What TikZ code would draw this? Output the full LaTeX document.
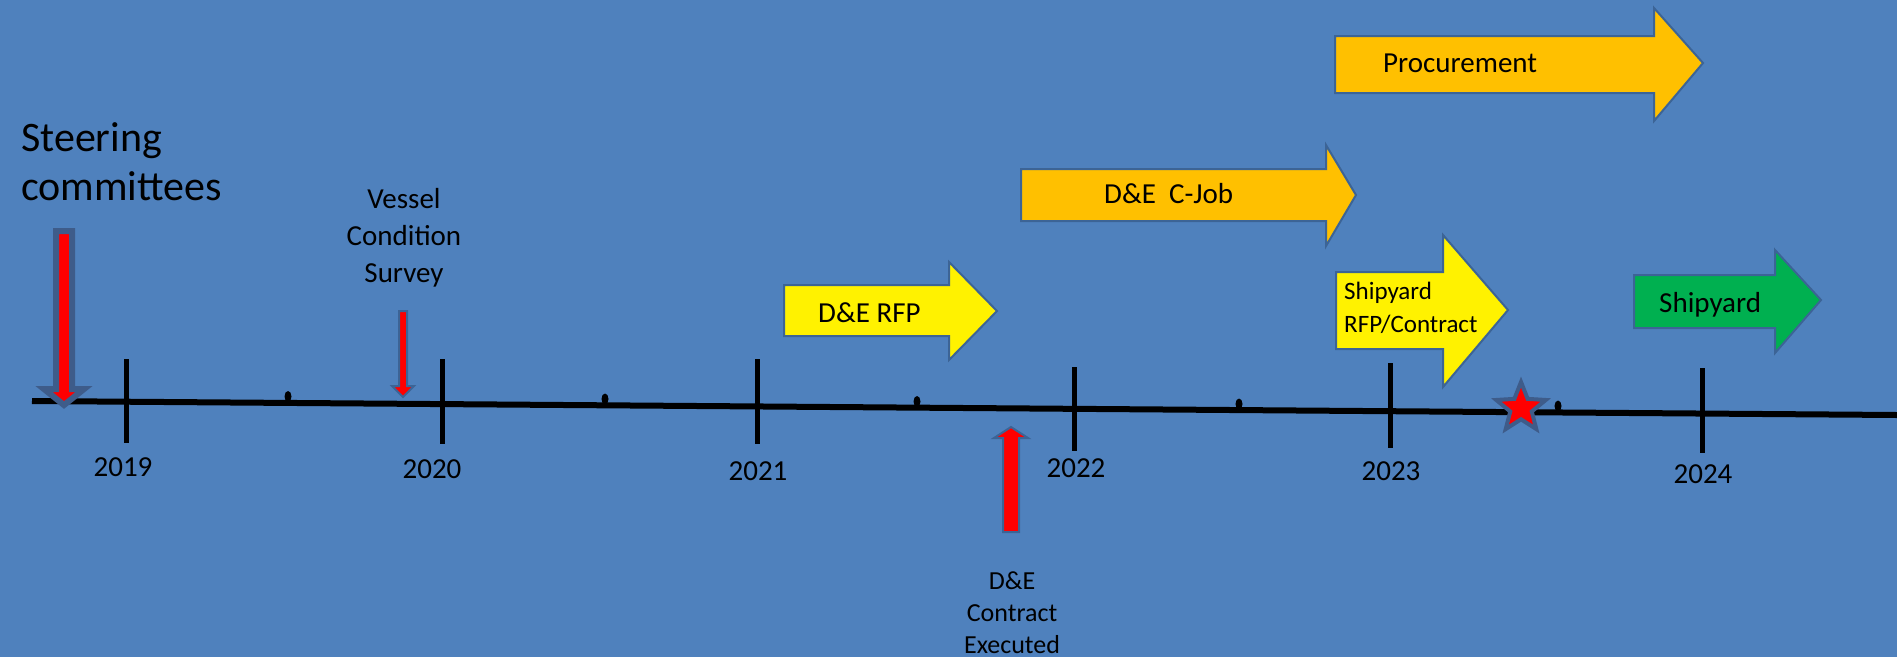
\documentclass[tikz,border=0pt]{standalone}
\usepackage{fontspec}
\setmainfont{Carlito}
\usetikzlibrary{shapes.geometric}
\definecolor{bg}{RGB}{79,129,189}
\definecolor{edgeblue}{RGB}{60,100,150}
\definecolor{thickedge}{RGB}{62,92,138}
\definecolor{amber}{RGB}{255,192,0}
\definecolor{grn}{RGB}{0,176,80}
\begin{document}
\begin{tikzpicture}[x=1pt,y=-1pt,
  shapearrow/.style={draw=edgeblue,line width=2pt,line join=miter},
  yellowarrow/.style={shapearrow,fill=yellow},
  amberarrow/.style={shapearrow,fill=amber},
  greenarrow/.style={shapearrow,fill=grn},
  redarrow/.style={draw=edgeblue,line width=2pt,fill=red},
  tickmark/.style={line width=5pt},
  lbl/.style={inner sep=0pt,font=\fontsize{29}{35}\selectfont},
  yearlbl/.style={lbl,anchor=base},
  dotmark/.style={fill=black,draw=none}]
\useasboundingbox (0,0) rectangle (1897,657);
\fill[bg] (0,0) rectangle (1897,657);

% timeline
\coordinate (tstart) at (32,401);
\coordinate (tend) at (1897,415);
\draw[line width=6pt] (tstart) -- (tend);

% ticks
\draw[tickmark] (126,359) -- (126,443);
\draw[tickmark] (442,359) -- (442,444);
\draw[tickmark] (757,359) -- (757,444);
\draw[tickmark] (1074,367) -- (1074,451);
\draw[tickmark] (1390,363) -- (1390,448);
\draw[tickmark] (1702,368) -- (1702,453);

% small dots
\fill[dotmark] (288,396.5) ellipse [x radius=3.5, y radius=5.5];
\fill[dotmark] (605,399) ellipse [x radius=3.5, y radius=5.5];
\fill[dotmark] (917,401.5) ellipse [x radius=3.5, y radius=5.5];
\fill[dotmark] (1239,404) ellipse [x radius=3.5, y radius=5.5];
\fill[dotmark] (1558,406) ellipse [x radius=3.5, y radius=5.5];

% year labels
\node[yearlbl] (y2019) at (123,476) {2019};
\node[yearlbl] (y2020) at (432,478) {2020};
\node[yearlbl] (y2021) at (758,480) {2021};
\node[yearlbl] (y2022) at (1076,477) {2022};
\node[yearlbl] (y2023) at (1391,480) {2023};
\node[yearlbl] (y2024) at (1703,483) {2024};

% steering committees
\node[inner sep=0pt,anchor=north west,align=left,font=\fontsize{42}{49}\selectfont] (steer) at (21,122) {Steering\\committees};
\draw[draw=thickedge,line width=6pt,fill=red,line join=miter]
  (56,231) -- (72,231) -- (72,389) -- (84,389) -- (64,405) -- (44,389) -- (56,389) -- cycle;

% vessel condition survey
\node[inner sep=0pt,anchor=north,align=center,font=\fontsize{29}{37}\selectfont] (vessel) at (404,188) {Vessel\\Condition\\Survey};
\draw[redarrow] (399,311) -- (407,311) -- (407,386) -- (414,386) -- (403,397) -- (392,386) -- (399,386) -- cycle;

% D&E contract executed
\draw[redarrow] (1003,532) -- (1019,532) -- (1019,438) -- (1028,438) -- (1011,427) -- (994,438) -- (1003,438) -- cycle;
\node[inner sep=0pt,anchor=north,align=center,font=\fontsize{26}{32}\selectfont] (deexec) at (1012,572) {D\&E\\Contract\\Executed};

% D&E RFP
\draw[yellowarrow] (784,285) -- (949,285) -- (949,262) -- (997,311) -- (949,360) -- (949,336) -- (784,336) -- cycle;
\node[lbl,anchor=base west] (rfp) at (818,322) {D\&E RFP};

% D&E C-Job
\draw[amberarrow] (1021,169) -- (1326,169) -- (1326,145) -- (1356,195) -- (1326,246) -- (1326,221) -- (1021,221) -- cycle;
\node[lbl,anchor=base west] (cjob) at (1104,203) {D\&E\ \ C-Job};

% Procurement
\draw[amberarrow] (1335,36) -- (1654,36) -- (1654,8) -- (1703,63) -- (1654,121) -- (1654,93) -- (1335,93) -- cycle;
\node[lbl,anchor=base west] (proc) at (1383,72) {Procurement};

% Shipyard RFP/Contract
\draw[yellowarrow] (1336,272) -- (1443,272) -- (1443,235) -- (1508,310) -- (1443,387) -- (1443,349) -- (1336,349) -- cycle;
\node[inner sep=0pt,anchor=north west,align=left,font=\fontsize{25}{33}\selectfont] (shiprfp) at (1344,282) {Shipyard\\RFP/Contract};

% Shipyard (green)
\draw[greenarrow] (1634,275) -- (1775,275) -- (1775,250) -- (1821,300) -- (1775,353) -- (1775,328) -- (1634,328) -- cycle;
\node[lbl,anchor=base west] (ship) at (1659,312) {Shipyard};

% star
\node[star,star points=5,star point ratio=2.3,minimum size=52pt,inner sep=0pt,fill=red,draw=thickedge,line width=4pt] (milestone) at (1521,408) {};
\end{tikzpicture}
\end{document}
